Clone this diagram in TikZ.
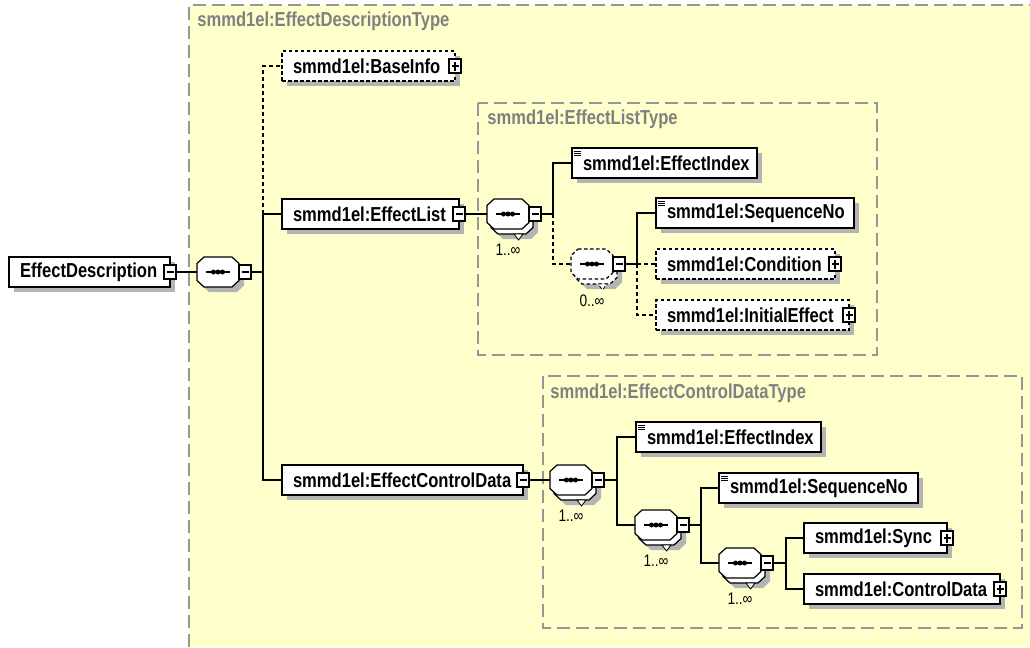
\documentclass[tikz,border=0pt]{standalone}
\usepackage{fontspec}
\setmainfont{Liberation Sans}[FakeStretch=0.82]
\usetikzlibrary{positioning,shadows}
\definecolor{typebg}{RGB}{255,255,204}
\definecolor{typeline}{RGB}{150,150,150}
\definecolor{typetext}{RGB}{128,128,128}
\definecolor{shade}{RGB}{180,180,180}

% octagon box for the compositors
\makeatletter
\pgfdeclareshape{octbox}{
  \inheritsavedanchors[from=rectangle]
  \inheritanchorborder[from=rectangle]
  \inheritanchor[from=rectangle]{center}
  \inheritanchor[from=rectangle]{north}
  \inheritanchor[from=rectangle]{south}
  \inheritanchor[from=rectangle]{east}
  \inheritanchor[from=rectangle]{west}
  \inheritanchor[from=rectangle]{north east}
  \inheritanchor[from=rectangle]{north west}
  \inheritanchor[from=rectangle]{south east}
  \inheritanchor[from=rectangle]{south west}
  \backgroundpath{
    \southwest \pgf@xa=\pgf@x \pgf@ya=\pgf@y
    \northeast \pgf@xb=\pgf@x \pgf@yb=\pgf@y
    \pgf@xc=\pgf@xa \advance\pgf@xc by 1.4mm
    \pgf@yc=\pgf@ya \advance\pgf@yc by 1.3mm
    \pgf@xd=\pgf@xb \advance\pgf@xd by -1.4mm
    \pgf@yd=\pgf@yb \advance\pgf@yd by -1.3mm
    \edef\oxa{\the\pgf@xa}\edef\oya{\the\pgf@ya}
    \edef\oxb{\the\pgf@xb}\edef\oyb{\the\pgf@yb}
    \edef\oxc{\the\pgf@xc}\edef\oyc{\the\pgf@yc}
    \edef\oxd{\the\pgf@xd}\edef\oyd{\the\pgf@yd}
    \pgfpathmoveto{\pgfpoint{\oxc}{\oyb}}
    \pgfpathlineto{\pgfpoint{\oxd}{\oyb}}
    \pgfpathlineto{\pgfpoint{\oxb}{\oyd}}
    \pgfpathlineto{\pgfpoint{\oxb}{\oyc}}
    \pgfpathlineto{\pgfpoint{\oxd}{\oya}}
    \pgfpathlineto{\pgfpoint{\oxc}{\oya}}
    \pgfpathlineto{\pgfpoint{\oxa}{\oyc}}
    \pgfpathlineto{\pgfpoint{\oxa}{\oyd}}
    \pgfpathclose
  }
}
\makeatother

\begin{document}
\begin{tikzpicture}[x=0.2mm, y=-0.2mm, font=\fontsize{11.5}{13}\selectfont\bfseries]
\tikzset{
    SHD/.style={drop shadow={shadow xshift=1mm, shadow yshift=-1mm,
               fill=shade, opacity=1}},
    EL/.style={draw, fill=white, line width=0.7pt, minimum height=6mm,
               inner xsep=2.2mm, inner ysep=0pt, outer sep=0pt,
               anchor=west, align=left, SHD},
    ELO/.style={EL, dash pattern=on 0.7mm off 0.5mm},
    SMP/.style={path picture={
               \foreach \k in {0.6,1.05,1.5}
                 \draw[line width=0.4pt]
                   ([shift={(0.4mm,-\k*1mm)}]path picture bounding box.north west)
                   -- ++(1.4mm,0mm);}},
    PMB/.style={draw, solid, fill=white, line width=0.6pt, minimum width=2.4mm,
               minimum height=2.8mm, inner sep=0pt, outer sep=0pt},
    MIN/.style={PMB, path picture={
               \draw[line width=0.6pt]
                 ([xshift=0.5mm]path picture bounding box.west)
                 -- ([xshift=-0.5mm]path picture bounding box.east);}},
    PLS/.style={PMB, path picture={
               \draw[line width=0.6pt]
                 ([xshift=0.5mm]path picture bounding box.west)
                 -- ([xshift=-0.5mm]path picture bounding box.east);
               \draw[line width=0.6pt]
                 ([yshift=-0.5mm]path picture bounding box.north)
                 -- ([yshift=0.5mm]path picture bounding box.south);}},
    SEQ/.style={octbox, draw, fill=white, line width=0.7pt, minimum width=8.4mm,
               minimum height=6mm, inner sep=0pt, outer sep=0pt},
    DSH/.style={dash pattern=on 0.7mm off 0.5mm},
    TRI/.style={draw, fill=white, line width=0.5pt, line join=round},
    CON/.style={line width=0.7pt},
    DCON/.style={line width=0.7pt, dash pattern=on 0.8mm off 0.6mm},
    TYP/.style={fill=typebg, draw=typeline, line width=0.6pt,
               dash pattern=on 2.6mm off 1.2mm},
    TYL/.style={text=typetext, anchor=west, inner sep=0pt},
    CNT/.style={font=\fontsize{9.5}{11}\selectfont, inner sep=0pt},
}
\useasboundingbox (0,0) rectangle (1030,647);

% Type areas
\fill[typebg] (189,5) rectangle (1030,647);
\draw[TYP, fill=none] (189,647) -- (189,5) -- (1030,5);
\node[TYL] (tyDesc) at (197,21) {smmd1el:EffectDescriptionType};
\draw[TYP] (478,103) rectangle (877,355);
\node[TYL] (tyList) at (487,119) {smmd1el:EffectListType};
\draw[TYP] (543,376) rectangle (1022,628);
\node[TYL] (tyCtrl) at (550,393) {smmd1el:EffectControlDataType};

% Bus lines
\coordinate (busT) at (263,0);
\coordinate (busL) at (553,0);
\coordinate (busO) at (637,0);
\coordinate (busC) at (617,0);
\coordinate (busR) at (701,0);
\coordinate (busS) at (786,0);

%── Root ───────────────────────────────────────────────────────
\node[EL, text width=27.8mm] (ed) at (9,272) {EffectDescription};
\node[MIN] (edm) at (ed.east) {};
\node[SEQ, SHD] (seqT) at (218,272) {};
\node[MIN, anchor=west] (seqTm) at (seqT.east) {};

\node[ELO, text width=30.2mm] (baseinfo) at (282,66) {smmd1el:BaseInfo};
\node[PLS] (baseinfop) at (baseinfo.east) {};
\node[EL, text width=31.0mm] (effectlist) at (282,214) {smmd1el:EffectList};
\node[MIN] (effectlistm) at (effectlist.east) {};
\node[EL, text width=43.8mm] (effctrl) at (282,480) {smmd1el:EffectControlData};
\node[MIN] (effctrlm) at (effctrl.east) {};

%── EffectList ─────────────────────────────────────────────────
\node[SEQ, SHD] (seqLb) at (512,219) {};
\draw[TRI] ([xshift=0.4mm]seqLb.south) -- ++(9,0) -- ++(-4.5,6) -- cycle;
\node[SEQ] (seqL) at (508,214) {};
\node[MIN, anchor=west] (seqLm) at (seqL.east) {};
\node[CNT, below=3mm of seqL] (cntL) {1..∞};

\node[EL, SMP, text width=32.6mm] (effidxA) at (572,163) {smmd1el:EffectIndex};

\node[SEQ, SHD, DSH] (seqOb) at (596,269) {};
\draw[TRI, DSH] ([xshift=0.4mm]seqOb.south) -- ++(9,0) -- ++(-4.5,6) -- cycle;
\node[SEQ, DSH] (seqO) at (592,264) {};
\node[MIN, anchor=west] (seqOm) at (seqO.east) {};
\node[CNT, below=3mm of seqO] (cntO) {0..∞};

\node[EL, SMP, text width=35.2mm] (seqnoA) at (656,213) {smmd1el:SequenceNo};
\node[ELO, text width=31.4mm] (condition) at (656,264) {smmd1el:Condition};
\node[PLS] (conditionp) at (condition.east) {};
\node[ELO, text width=34.2mm] (initeffect) at (656,315) {smmd1el:InitialEffect};
\node[PLS] (initeffectp) at (initeffect.east) {};

%── EffectControlData ──────────────────────────────────────────
\node[SEQ, SHD] (seqCb) at (575,485) {};
\draw[TRI] ([xshift=0.4mm]seqCb.south) -- ++(9,0) -- ++(-4.5,6) -- cycle;
\node[SEQ] (seqC) at (571,480) {};
\node[MIN, anchor=west] (seqCm) at (seqC.east) {};
\node[CNT, below=3mm of seqC] (cntC) {1..∞};

\node[EL, SMP, text width=32.6mm] (effidxB) at (636,437) {smmd1el:EffectIndex};

\node[SEQ, SHD] (seqRb) at (660,530) {};
\draw[TRI] ([xshift=0.4mm]seqRb.south) -- ++(9,0) -- ++(-4.5,6) -- cycle;
\node[SEQ] (seqR) at (656,525) {};
\node[MIN, anchor=west] (seqRm) at (seqR.east) {};
\node[CNT, below=3mm of seqR] (cntR) {1..∞};

\node[EL, SMP, text width=35.4mm] (seqnoB) at (719,488) {smmd1el:SequenceNo};

\node[SEQ, SHD] (seqSb) at (744,568) {};
\draw[TRI] ([xshift=0.4mm]seqSb.south) -- ++(9,0) -- ++(-4.5,6) -- cycle;
\node[SEQ] (seqS) at (740,563) {};
\node[MIN, anchor=west] (seqSm) at (seqS.east) {};
\node[CNT, below=3mm of seqS] (cntS) {1..∞};

\node[EL, text width=24.2mm] (sync) at (804,538) {smmd1el:Sync};
\node[PLS] (syncp) at (sync.east) {};
\node[EL, text width=34.8mm] (ctrldata) at (804,589) {smmd1el:ControlData};
\node[PLS] (ctrldatap) at (ctrldata.east) {};

% sequence marks  -•••-
\foreach \s in {seqT,seqL,seqO,seqC,seqR,seqS} {
  \draw[line width=1pt] ([xshift=-2.4mm]\s.center) -- ([xshift=2.4mm]\s.center);
  \foreach \d in {-1,0,1}
    \fill ([xshift=\d*0.9mm]\s.center) circle (0.5mm);
}

%── Connectors ─────────────────────────────────────────────────
\draw[CON] (edm.east) -- (seqT.west);
\draw[CON] (seqTm.east) -- (seqTm.east -| busT) |- (effectlist.west);
\draw[CON] (seqTm.east -| busT) |- (effctrl.west);
\draw[DCON] (effectlist.west -| busT) |- (baseinfo.west);

\draw[CON] (effectlistm.east) -- (seqL.west);
\draw[CON] (seqLm.east) -- (seqLm.east -| busL) |- (effidxA.west);
\draw[DCON] (seqLm.east -| busL) |- (seqO.west);
\draw[CON] (seqOm.east) -- (seqOm.east -| busO) |- (seqnoA.west);
\draw[DCON] (seqOm.east -| busO) |- (condition.west);
\draw[DCON] (seqOm.east -| busO) |- (initeffect.west);

\draw[CON] (effctrlm.east) -- (seqC.west);
\draw[CON] (seqCm.east) -- (seqCm.east -| busC) |- (effidxB.west);
\draw[CON] (seqCm.east -| busC) |- (seqR.west);
\draw[CON] (seqRm.east) -- (seqRm.east -| busR) |- (seqnoB.west);
\draw[CON] (seqRm.east -| busR) |- (seqS.west);
\draw[CON] (seqSm.east) -- (seqSm.east -| busS) |- (sync.west);
\draw[CON] (seqSm.east -| busS) |- (ctrldata.west);

\end{tikzpicture}
\end{document}
